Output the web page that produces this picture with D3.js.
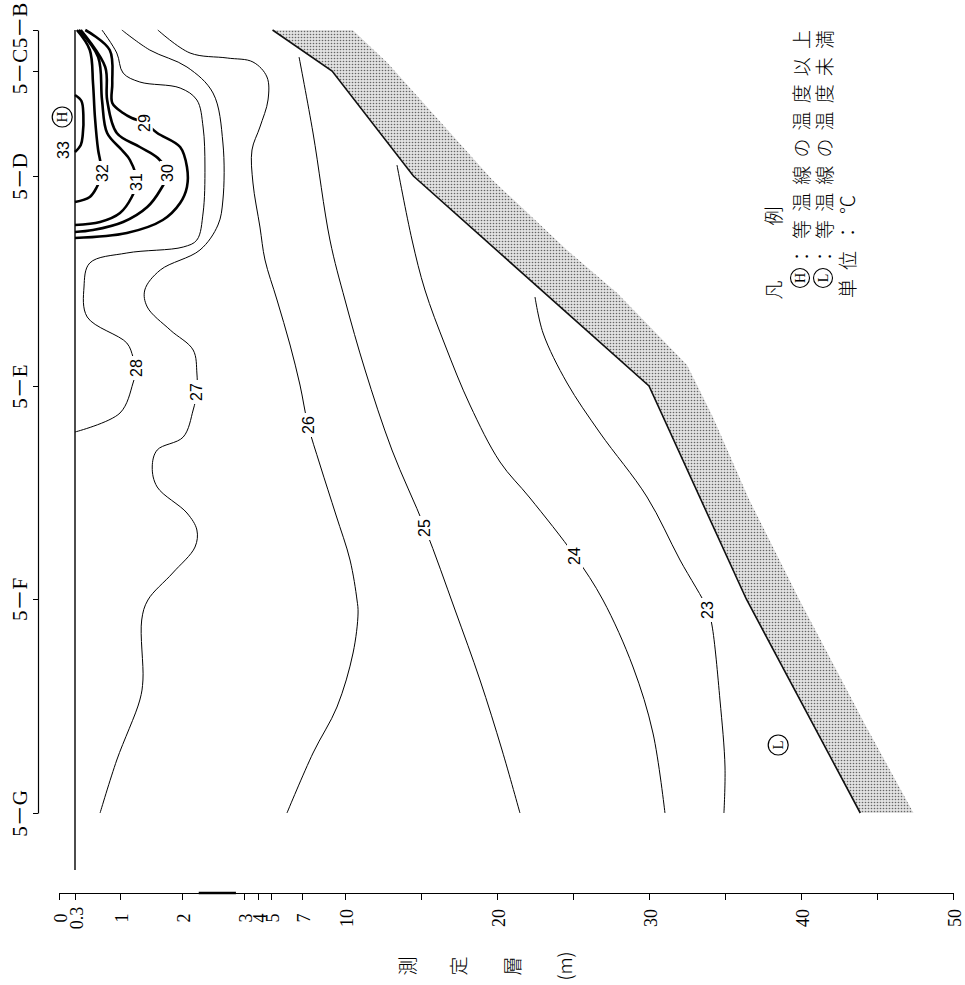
<!DOCTYPE html>
<html>
<head>
<meta charset="utf-8">
<script src="https://cdn.jsdelivr.net/npm/d3@7"></script>
<style>
body { margin: 0; background: #fff; }
svg { display: block; }
.serif { font-family: "Liberation Serif", "DejaVu Serif", "Noto Sans CJK JP", serif; }
.cjk { font-family: "Noto Sans CJK JP", sans-serif; font-weight: 300; }
.clab { font-family: "Liberation Sans", Arial, sans-serif; font-size: 16px; }
</style>
</head>
<body>
<svg id="chart" width="965" height="985"></svg>
<script>
// stations along the transect (distance units) and seabed depth (m)
var stations = ['5－B', '5－C', '5－D', '5－E', '5－F', '5－G'];
var stationDist = [0, 0.41, 1.46, 3.56, 5.69, 7.83];
var seabedDepth = [5.1, 9.1, 14.5, 30.0, 36.4, 43.9];
var sedimentEdge = [[0, 10.5], [0.33, 12.8], [1.50, 19.7], [2.20, 24.6], [2.63, 27.9], [3.35, 32.5],
                    [3.87, 34.2], [4.70, 36.6], [5.70, 39.9], [6.97, 44.3], [7.83, 47.4]];
var surfaceDepth = 0.3, surfaceEnd = 8.4;

var depthBreaks = [0, 0.3, 1, 2, 3, 4, 5, 7, 10, 50];
var depthTicks = [0, 0.3, 1, 2, 3, 4, 5, 7, 10, 15, 20, 25, 30, 35, 40, 45, 50];
var depthLabels = [0, 0.3, 1, 2, 3, 4, 5, 7, 10, 20, 30, 40, 50];

// isotherms, [distance, depth]
var iso33 = [[0.65,0.3],[0.71,0.40],[0.85,0.43],[1.05,0.42],[1.15,0.39],[1.22,0.3]];
var iso32 = [[0,0.33],[0.2,0.53],[0.53,0.58],[0.87,0.61],[1.2,0.66],[1.3,0.69],[1.43,0.72],[1.57,0.64],[1.67,0.53],[1.72,0.3]];
var iso31 = [[0,0.36],[0.27,0.66],[0.70,0.72],[1.03,0.80],[1.20,1.03],[1.30,1.16],[1.52,1.27],[1.67,1.19],[1.83,1.0],[1.92,0.69],[1.95,0.3]];
var iso30 = [[0,0.39],[0.37,0.77],[0.70,0.80],[1.03,0.95],[1.17,1.32],[1.28,1.61],[1.43,1.77],[1.60,1.65],[1.77,1.44],[1.92,1.05],[2.00,0.58],[2.02,0.3]];
var iso29 = [[0,0.46],[0.2,0.84],[0.53,0.88],[0.73,0.88],[0.83,1.05],[0.88,1.19],[0.93,1.40],[1.03,1.60],[1.17,1.97],[1.37,2.08],[1.57,2.08],[1.73,1.97],[1.90,1.69],[2.03,1.11],[2.08,0.3]];
var iso28 = [[0,0.72],[0.23,0.95],[0.43,1.05],[0.52,1.32],[0.58,1.97],[0.70,2.24],[0.97,2.34],[1.37,2.37],[1.83,2.34],[2.10,2.24],[2.17,2.02],[2.23,1.11],[2.33,0.53],[2.57,0.44],[2.87,0.49],[3.13,1.11],[3.27,1.21],[3.38,1.26],[3.53,1.21],[3.83,1.0],[4.02,0.3]];
var iso27 = [[0,1.03],[0.2,1.48],[0.37,2.08],[0.63,2.5],[1.13,2.66],[1.70,2.66],[1.95,2.58],[2.20,2.29],[2.40,1.65],[2.60,1.40],[2.77,1.44],[3.00,1.81],[3.20,2.18],[3.43,2.24],[3.62,2.24],[3.80,2.18],[4.07,2.02],[4.20,1.60],[4.37,1.52],[4.57,1.60],[4.83,2.08],[5.00,2.24],[5.17,2.21],[5.43,1.85],[5.70,1.45],[5.90,1.35],[6.50,1.37],[6.70,1.32],[7.30,0.95],[7.83,0.69]];
var iso26 = [[0,1.61],[0.23,2.13],[0.28,2.73],[0.32,3.64],[0.47,4.69],[0.70,4.77],[0.97,4.15],[1.20,3.57],[1.53,3.64],[1.97,4.15],[2.30,4.54],[2.70,5.39],[3.15,6.23],[3.55,6.87],[3.95,7.42],[4.35,8.26],[4.85,9.37],[5.30,10.33],[5.70,10.79],[5.83,10.86],[6.23,10.53],[6.77,9.44],[7.23,7.77],[7.83,6.03]];
var iso25 = [[0.27,6.81],[1.03,7.77],[2.10,8.95],[2.70,10.0],[3.40,11.32],[4.20,13.09],[4.98,15.26],[5.80,17.24],[6.50,18.88],[7.20,20.33],[7.83,21.51]];
var iso24 = [[1.35,13.42],[2.10,14.41],[2.60,15.26],[3.15,16.58],[3.75,18.22],[4.32,20.2],[4.68,22.17],[5.26,25.13],[5.70,26.97],[6.37,28.95],[7.03,30.26],[7.83,31.05]];
var iso23 = [[2.67,22.5],[3.03,23.03],[3.53,24.61],[4.03,26.78],[4.67,29.87],[5.30,32.04],[5.80,33.88],[5.95,34.14],[6.70,34.67],[7.37,35.0],[7.83,34.93]];

var levels = [33, 32, 31, 30, 29, 28, 27, 26, 25, 24, 23];
var isolines = [iso33, iso32, iso31, iso30, iso29, iso28, iso27, iso26, iso25, iso24, iso23];
var labelAt = [[1.20,0.08],[1.43,0.72],[1.52,1.27],[1.43,1.77],[0.93,1.40],[3.38,1.26],[3.62,2.24],[3.95,7.42],[4.98,15.26],[5.26,25.13],[5.80,33.88]];

// H / L markers [distance, depth]
var marks = [{t: 'H', at: [0.87, 0.06]}, {t: 'L', at: [7.15, 38.5]}];

var svg = d3.select('#chart');

var y = d3.scaleLinear().domain([0, 7.83]).range([30, 813]);
var x = d3.scaleLinear().domain(depthBreaks)
    .range([59, 75, 120, 182, 244, 258, 271, 302, 345, 953]);

var defs = svg.append('defs');
var pat = defs.append('pattern').attr('id', 'dots')
    .attr('width', 3).attr('height', 3).attr('patternUnits', 'userSpaceOnUse');
pat.append('rect').attr('width', 3).attr('height', 3).attr('fill', '#e2e2e2');
pat.append('circle').attr('cx', 1.5).attr('cy', 1.5).attr('r', 0.8).attr('fill', '#666');

var line = d3.line()
    .x(function(d) { return x(d[1]); })
    .y(function(d) { return y(d[0]); });

// sediment band
var seabed = stationDist.map(function(d, i) { return [d, seabedDepth[i]]; });
var band = seabed.concat(sedimentEdge.slice().reverse());
svg.append('path')
    .attr('d', line(band) + 'Z')
    .attr('fill', 'url(#dots)');

svg.append('path')
    .attr('d', line(seabed))
    .attr('fill', 'none')
    .attr('stroke', '#111')
    .attr('stroke-width', 1.6);

// water surface
svg.append('line')
    .attr('x1', x(surfaceDepth)).attr('x2', x(surfaceDepth))
    .attr('y1', y(0)).attr('y2', y(surfaceEnd))
    .attr('stroke', '#000').attr('stroke-width', 1.4);

// isotherms
var curve = d3.line()
    .x(function(d) { return x(d[1]); })
    .y(function(d) { return y(d[0]); })
    .curve(d3.curveCatmullRom.alpha(0.5));

svg.append('g').selectAll('path')
    .data(isolines)
  .enter().append('path')
    .attr('d', curve)
    .attr('fill', 'none')
    .attr('stroke', '#000')
    .attr('stroke-width', function(d, i) { return levels[i] >= 29 ? 2.6 : 1; });

var lab = svg.append('g').selectAll('g')
    .data(levels)
  .enter().append('g')
    .attr('transform', function(d, i) { return 'translate(' + x(labelAt[i][1]) + ',' + y(labelAt[i][0]) + ')'; });

lab.filter(function(d) { return d != 33; }).append('rect')
    .attr('x', -8).attr('y', -12).attr('width', 16).attr('height', 24)
    .attr('fill', '#fff');

lab.append('text')
    .attr('class', 'clab')
    .attr('transform', 'rotate(-90)')
    .attr('text-anchor', 'middle')
    .attr('dominant-baseline', 'central')
    .text(function(d) { return d; });

// H and L marks
var mk = svg.append('g').selectAll('g')
    .data(marks)
  .enter().append('g')
    .attr('transform', function(d) { return 'translate(' + x(d.at[1]) + ',' + y(d.at[0]) + ')'; });
mk.append('circle').attr('r', 10).attr('fill', '#fff').attr('stroke', '#000').attr('stroke-width', 1.2);
mk.append('text').attr('class', 'serif')
    .attr('transform', 'rotate(-90)')
    .attr('text-anchor', 'middle').attr('dominant-baseline', 'central')
    .style('font-size', '15px')
    .text(function(d) { return d.t; });

// station axis
var sAxis = svg.append('g')
    .attr('transform', 'translate(38,0)')
    .call(d3.axisLeft(y).tickValues(stationDist)
        .tickFormat(function(d, i) { return stations[i]; })
        .tickSize(5).tickSizeOuter(0));
sAxis.select('.domain').attr('stroke-width', 1.2);
sAxis.selectAll('text')
    .attr('class', 'serif')
    .attr('x', 0).attr('dy', null)
    .attr('fill', '#000')
    .attr('text-anchor', 'middle')
    .attr('dominant-baseline', 'central')
    .style('font-size', '21px')
    .attr('transform', function(d, i) { return 'translate(-18,' + (i == 0 ? -5 : 0) + ') rotate(-90)'; });

// depth axis
var dAxis = svg.append('g')
    .attr('transform', 'translate(0,893)')
    .call(d3.axisBottom(x).tickValues(depthTicks)
        .tickFormat(function(d) { return depthLabels.indexOf(d) >= 0 ? d : ''; })
        .tickSize(7).tickSizeOuter(0));
dAxis.select('.domain').attr('stroke-width', 1.2);
dAxis.selectAll('text')
    .attr('class', 'serif')
    .attr('y', 0).attr('dy', null)
    .attr('fill', '#000')
    .attr('text-anchor', 'middle')
    .attr('dominant-baseline', 'central')
    .style('font-size', '18px')
    .attr('transform', 'translate(1,25) rotate(-90)');

dAxis.append('line')
    .attr('x1', x(2.27)).attr('x2', x(2.87))
    .attr('stroke', '#000').attr('stroke-width', 2.5);

var titleChars = ['測', '定', '層', '(m)'];
var titleX = [406, 457, 511, 563];
svg.append('g').selectAll('text')
    .data(titleChars)
  .enter().append('text')
    .attr('class', 'cjk')
    .attr('transform', function(d, i) { return 'translate(' + titleX[i] + ',966) rotate(-90)'; })
    .attr('text-anchor', 'middle').attr('dominant-baseline', 'central')
    .style('font-size', '19px')
    .text(function(d) { return d; });

// legend
var lg = svg.append('g').attr('class', 'cjk').style('font-size', '19px');
lg.append('text').attr('transform', 'translate(772,290) rotate(-90)')
    .attr('text-anchor', 'middle').attr('dominant-baseline', 'central').text('凡');
lg.append('text').attr('transform', 'translate(772,216) rotate(-90)')
    .attr('text-anchor', 'middle').attr('dominant-baseline', 'central').text('例');

var legRows = [{m: 'H', t: '：等温線の温度以上', x: 800}, {m: 'L', t: '：等温線の温度未満', x: 823}];
legRows.forEach(function(r) {
  lg.append('circle').attr('cx', r.x).attr('cy', 278).attr('r', 9.5)
      .attr('fill', 'none').attr('stroke', '#000').attr('stroke-width', 1.1);
  lg.append('text').attr('class', 'serif')
      .attr('transform', 'translate(' + r.x + ',278) rotate(-90)')
      .attr('text-anchor', 'middle').attr('dominant-baseline', 'central')
      .style('font-size', '14px').text(r.m);
  lg.append('text').attr('transform', 'translate(' + r.x + ',266) rotate(-90)')
      .attr('dominant-baseline', 'central')
      .attr('textLength', 236).attr('lengthAdjust', 'spacing')
      .text(r.t);
});
lg.append('text').attr('transform', 'translate(846,298) rotate(-90)')
    .attr('dominant-baseline', 'central')
    .attr('textLength', 103).attr('lengthAdjust', 'spacing')
    .text('単位：℃');
</script>
</body>
</html>
